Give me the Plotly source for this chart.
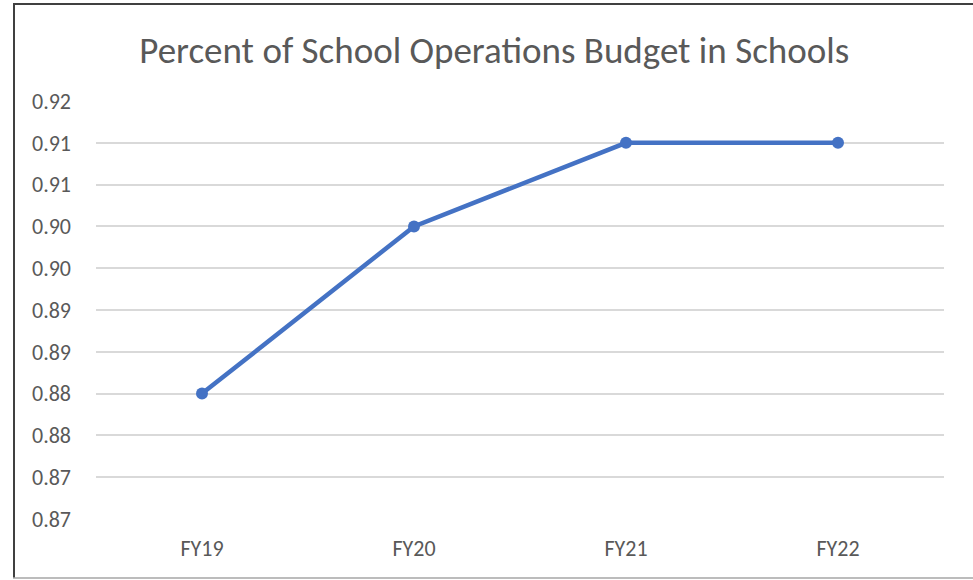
import plotly.graph_objects as go

years = ["FY19", "FY20", "FY21", "FY22"]
share = [0.88, 0.90, 0.91, 0.91]

tick_vals = [0.865, 0.870, 0.875, 0.880, 0.885, 0.890, 0.895, 0.900, 0.905, 0.910, 0.915]
tick_text = ["0.87", "0.87", "0.88", "0.88", "0.89", "0.89", "0.90", "0.90", "0.91", "0.91", "0.92"]

W, H = 973, 580
L, R, T, B = 96, 29, 101, 61
pw, ph = W - L - R, H - T - B


def px(x):
    return (x - L) / pw


def py(y):
    return (H - B - y) / ph


fig = go.Figure()
fig.add_trace(
    go.Scatter(
        x=years,
        y=share,
        mode="lines+markers",
        line={"color": "#4472C4", "width": 4.5},
        marker={"color": "#4472C4", "size": 12},
        showlegend=False,
    )
)

font = "Carlito, Calibri, 'Open Sans', sans-serif"
fig.update_layout(
    width=W,
    height=H,
    margin={"l": L, "r": R, "t": T, "b": B},
    paper_bgcolor="white",
    plot_bgcolor="white",
    font={"family": font, "color": "#595959", "size": 22},
    title={
        "text": "Percent of School Operations Budget in Schools",
        "x": 0.508,
        "xanchor": "center",
        "y": 1 - 50 / H,
        "yanchor": "middle",
        "font": {"size": 37, "color": "#595959", "family": font},
    },
    xaxis={
        "range": [-0.5, 3.5],
        "showgrid": False,
        "showline": False,
        "zeroline": False,
        "ticks": "",
        "ticklabelstandoff": 14,
    },
    yaxis={
        "range": [0.865, 0.915],
        "tickvals": tick_vals,
        "ticktext": tick_text,
        "showgrid": True,
        "gridcolor": "#D9D9D9",
        "gridwidth": 1.5,
        "zeroline": False,
        "showline": False,
        "ticks": "",
        "ticklabelstandoff": 24,
    },
    shapes=[
        {"type": "line", "xref": "paper", "yref": "paper",
         "x0": px(13), "x1": px(973), "y0": py(4), "y1": py(4),
         "line": {"color": "#404040", "width": 2}},
        {"type": "line", "xref": "paper", "yref": "paper",
         "x0": px(14), "x1": px(14), "y0": py(4), "y1": py(578),
         "line": {"color": "#404040", "width": 2}},
        {"type": "line", "xref": "paper", "yref": "paper",
         "x0": px(13), "x1": px(973), "y0": py(578), "y1": py(578),
         "line": {"color": "#A6A6A6", "width": 1.5}},
    ],
)

fig.write_html(
    "out.html",
    config={"displayModeBar": False},
    post_script="document.body.style.margin='0';document.body.style.overflow='hidden';",
)
